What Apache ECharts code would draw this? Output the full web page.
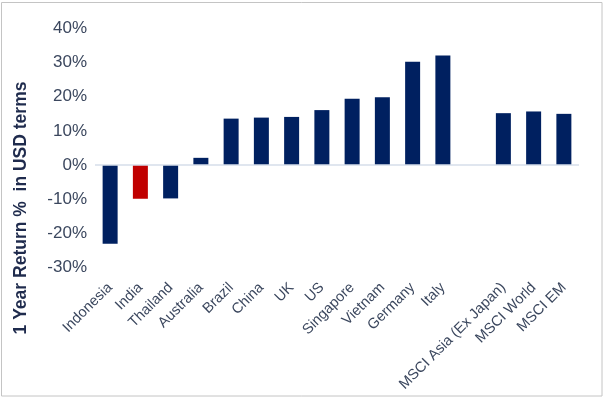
<!DOCTYPE html>
<html>
<head>
<meta charset="utf-8">
<script src="https://cdn.jsdelivr.net/npm/echarts@6/dist/echarts.min.js"></script>
<style>
  html, body { margin: 0; padding: 0; background: #fff; }
  #chart { width: 606px; height: 398px; }
</style>
</head>
<body>
<div id="chart"></div>
<script>
// categories (blank slot separates countries from MSCI indices)
var categories = ['Indonesia', 'India', 'Thailand', 'Australia', 'Brazil', 'China', 'UK', 'US',
  'Singapore', 'Vietnam', 'Germany', 'Italy', '', 'MSCI Asia (Ex Japan)', 'MSCI World', 'MSCI EM'];
// 1 year return %, in USD terms
var returns = [-23.1, -9.9, -9.8, 2.1, 13.6, 13.9, 14.1, 16.1, 19.4, 19.9, 30.3, 32.1, null, 15.2, 15.7, 15.0];
var highlight = 'India';
var yTicks = { min: -30, max: 40, step: 10 };

var navy = '#002060', red = '#c00000';
var textCol = '#3b475e';

var barData = [];
for (var i = 0; i < categories.length; i++) {
  barData.push({
    value: returns[i],
    itemStyle: { color: categories[i] == highlight ? red : navy }
  });
}

var chart = echarts.init(document.getElementById('chart'));
chart.setOption({
  animation: false,
  grid: { left: 95, right: 27, top: 28.6, bottom: 130.7 },
  graphic: [
    {
      type: 'rect',
      shape: { x: 1.5, y: 2.5, width: 600.5, height: 393.5 },
      style: { fill: 'none', stroke: '#c4c4c4', lineWidth: 1 },
      silent: true
    },
    {
      type: 'text',
      x: 21, y: 208,
      rotation: Math.PI / 2,
      style: {
        text: '1 Year Return %  in USD terms',
        fill: '#1f2b4d',
        font: 'bold 17.5px "Liberation Sans", Arial, sans-serif',
        textAlign: 'center',
        textVerticalAlign: 'middle'
      }
    }
  ],
  xAxis: {
    type: 'category',
    data: categories,
    axisLine: { show: false, onZero: false },
    axisTick: { show: false },
    axisLabel: {
      interval: 0,
      rotate: 45,
      margin: 18,
      color: textCol,
      fontSize: 14.6,
      fontFamily: '"Liberation Sans", Arial, sans-serif'
    }
  },
  yAxis: {
    type: 'value',
    min: yTicks.min,
    max: yTicks.max,
    interval: yTicks.step,
    axisLine: { show: false },
    axisTick: { show: false },
    splitLine: { show: false },
    axisLabel: {
      formatter: '{value}%',
      margin: 8,
      color: textCol,
      fontSize: 17,
      fontFamily: '"Liberation Sans", Arial, sans-serif'
    }
  },
  series: [{
    type: 'bar',
    data: barData,
    barWidth: 15,
    markLine: {
      silent: true,
      symbol: 'none',
      label: { show: false },
      lineStyle: { color: '#d6deea', width: 1.5, type: 'solid' },
      data: [{ yAxis: 0 }]
    }
  }]
});
</script>
</body>
</html>
